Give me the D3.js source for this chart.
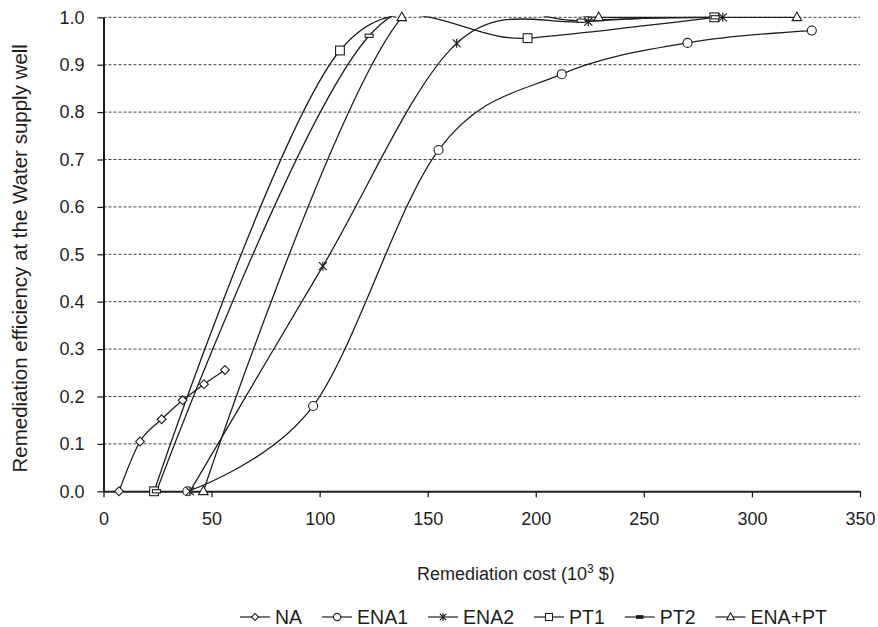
<!DOCTYPE html>
<html>
<head>
<meta charset="utf-8">
<script src="https://cdn.jsdelivr.net/npm/d3@7"></script>
<style>
  html, body { margin: 0; padding: 0; background: #fff; }
  svg { display: block; font-family: "Liberation Sans", Arial, sans-serif; }
</style>
</head>
<body>
<svg id="chart" width="878" height="627"></svg>
<script>
// ---------- data (cost in 10^3 $, efficiency 0..1) ----------
const xTicks = [0, 50, 100, 150, 200, 250, 300, 350];
const yTicks = [0, 0.1, 0.2, 0.3, 0.4, 0.5, 0.6, 0.7, 0.8, 0.9, 1.0];

const naCost   = [7.2, 16.9, 26.9, 36.6, 46.5, 56.2];
const naEff    = [0, 0.105, 0.152, 0.192, 0.226, 0.256];

const ena1Cost = [38.8, 97, 155, 212, 270.2, 327.7];
const ena1Eff  = [0, 0.18, 0.72, 0.88, 0.946, 0.972];

const ena2Cost = [40, 101.5, 163.4, 224.3, 286.5];
const ena2Eff  = [0, 0.475, 0.945, 0.991, 1.0];

const pt1Cost  = [23.4, 109.4, 196.2, 282.6];
const pt1Eff   = [0, 0.93, 0.956, 1.0];

const pt2Cost  = [24.5, 122.9, 221, 283];
const pt2Eff   = [0, 0.961, 0.993, 1.0];

const enaptCost = [46.2, 138, 229.1, 320.8];
const enaptEff  = [0, 1.0, 1.0, 1.0];

const seriesNames = ["NA", "ENA1", "ENA2", "PT1", "PT2", "ENA+PT"];
const markerTypes = ["diamond", "circle", "asterisk", "square", "dash", "triangle"];

const series = [
  {name: seriesNames[0], marker: markerTypes[0], cost: naCost, eff: naEff},
  {name: seriesNames[1], marker: markerTypes[1], cost: ena1Cost, eff: ena1Eff},
  {name: seriesNames[2], marker: markerTypes[2], cost: ena2Cost, eff: ena2Eff},
  {name: seriesNames[3], marker: markerTypes[3], cost: pt1Cost, eff: pt1Eff},
  {name: seriesNames[4], marker: markerTypes[4], cost: pt2Cost, eff: pt2Eff},
  {name: seriesNames[5], marker: markerTypes[5], cost: enaptCost, eff: enaptEff}
].map(s => ({...s, points: s.cost.map((c, i) => [c, s.eff[i]])}));

// ---------- layout ----------
const svg = d3.select("#chart");
const ink = "#1e1e1e";
const x = d3.scaleLinear().domain([0, 350]).range([103.5, 860]);
const y = d3.scaleLinear().domain([0, 1]).range([491.3, 17.3]);

// clip for lines (plot area)
svg.append("defs").append("clipPath").attr("id", "plotclip")
  .append("rect")
  .attr("x", x(0)).attr("y", y(1) - 1)
  .attr("width", x(350) - x(0)).attr("height", y(0) - y(1) + 1);

// gridlines
svg.append("g").selectAll("line")
  .data(yTicks.filter(d => d > 0))
  .join("line")
  .attr("x1", x(0)).attr("x2", x(350))
  .attr("y1", d => y(d)).attr("y2", d => y(d))
  .attr("stroke", "#404040").attr("stroke-width", 1)
  .attr("stroke-dasharray", "3,2");

// axes
const yAxis = d3.axisLeft(y).tickValues(yTicks).tickFormat(d3.format(".1f"))
  .tickSize(6).tickSizeOuter(0).tickPadding(13);
const xAxis = d3.axisBottom(x).tickValues(xTicks).tickFormat(d3.format("d"))
  .tickSize(6).tickSizeOuter(0).tickPadding(15);

const gy = svg.append("g").attr("transform", `translate(${x(0)},0)`).call(yAxis);
const gx = svg.append("g").attr("transform", `translate(0,${y(0)})`).call(xAxis);
[gx, gy].forEach(g => {
  g.select(".domain").attr("stroke", ink).attr("stroke-width", 2);
  g.selectAll(".tick line").attr("stroke", ink).attr("stroke-width", 1.3);
  g.selectAll(".tick text").attr("fill", ink)
    .style("font-family", '"Liberation Sans", Arial, sans-serif').style("font-size", "18px");
});

// lines
const line = d3.line().x(d => x(d[0])).y(d => y(d[1])).curve(d3.curveCardinal.tension(0));
svg.append("g").attr("clip-path", "url(#plotclip)")
  .selectAll("path").data(series).join("path")
  .attr("d", s => line(s.points))
  .attr("fill", "none").attr("stroke", ink).attr("stroke-width", 1.3);

// markers
function drawMarker(g, type, cx, cy, scale) {
  const k = scale || 1;
  if (type === "diamond") {
    const r = 4.4 * k;
    g.append("path").attr("d", `M${cx},${cy - r}L${cx + r},${cy}L${cx},${cy + r}L${cx - r},${cy}Z`)
      .attr("fill", "#fff").attr("stroke", ink).attr("stroke-width", 1.1);
  } else if (type === "circle") {
    g.append("circle").attr("cx", cx).attr("cy", cy).attr("r", 4.5 * k)
      .attr("fill", "#fff").attr("stroke", ink).attr("stroke-width", 1.1);
  } else if (type === "asterisk") {
    const r = 4 * k;
    g.append("path").attr("d",
      `M${cx - r},${cy - r}L${cx + r},${cy + r}M${cx - r},${cy + r}L${cx + r},${cy - r}M${cx},${cy - r - 0.5}L${cx},${cy + r + 0.5}`)
      .attr("fill", "none").attr("stroke", ink).attr("stroke-width", 1.2);
  } else if (type === "square") {
    const r = 4.4 * k;
    g.append("rect").attr("x", cx - r).attr("y", cy - r).attr("width", 2 * r).attr("height", 2 * r)
      .attr("fill", "#fff").attr("stroke", ink).attr("stroke-width", 1.1);
  } else if (type === "dash") {
    g.append("rect").attr("x", cx - 4 * k).attr("y", cy - 1.6 * k).attr("width", 8 * k).attr("height", 3.2 * k)
      .attr("fill", k < 1 ? ink : "#fff").attr("stroke", ink).attr("stroke-width", 1.1);
  } else if (type === "triangle") {
    const r = 4.8 * k;
    g.append("path").attr("d", `M${cx},${cy - r * 1.1}L${cx + r},${cy + r * 0.7}L${cx - r},${cy + r * 0.7}Z`)
      .attr("fill", "#fff").attr("stroke", ink).attr("stroke-width", 1.1);
  }
}

const gm = svg.append("g");
series.forEach(s => {
  s.points.forEach(p => drawMarker(gm, s.marker, x(p[0]), y(p[1]), 1));
});

// y-axis title
svg.append("text")
  .attr("transform", `translate(27,${(y(0) + y(1)) / 2 + 4}) rotate(-90)`)
  .attr("text-anchor", "middle")
  .attr("fill", ink).style("font-size", "20.5px")
  .text("Remediation efficiency at the Water supply well");

// x-axis title
const xt = svg.append("text")
  .attr("x", 417).attr("y", 580)
  .attr("fill", ink).style("font-size", "18px");
xt.append("tspan").text("Remediation cost (10");
xt.append("tspan").attr("dy", -7).style("font-size", "12px").text("3");
xt.append("tspan").attr("dy", 7).text(" $)");

// legend
const legend = svg.append("g").attr("transform", "translate(240,0)");
const legY = 617;
let lx = 0;
series.forEach(s => {
  const g = legend.append("g").attr("transform", `translate(${lx},0)`);
  g.append("line").attr("x1", 0).attr("x2", 30).attr("y1", legY).attr("y2", legY)
    .attr("stroke", ink).attr("stroke-width", 1.2);
  drawMarker(g, s.marker, 15, legY, 0.8);
  const t = g.append("text").attr("x", 35).attr("y", legY + 7)
    .attr("fill", ink).style("font-size", "19.5px").text(s.name);
  const w = t.node().getComputedTextLength();
  lx += 35 + w + 20;
});
</script>
</body>
</html>
